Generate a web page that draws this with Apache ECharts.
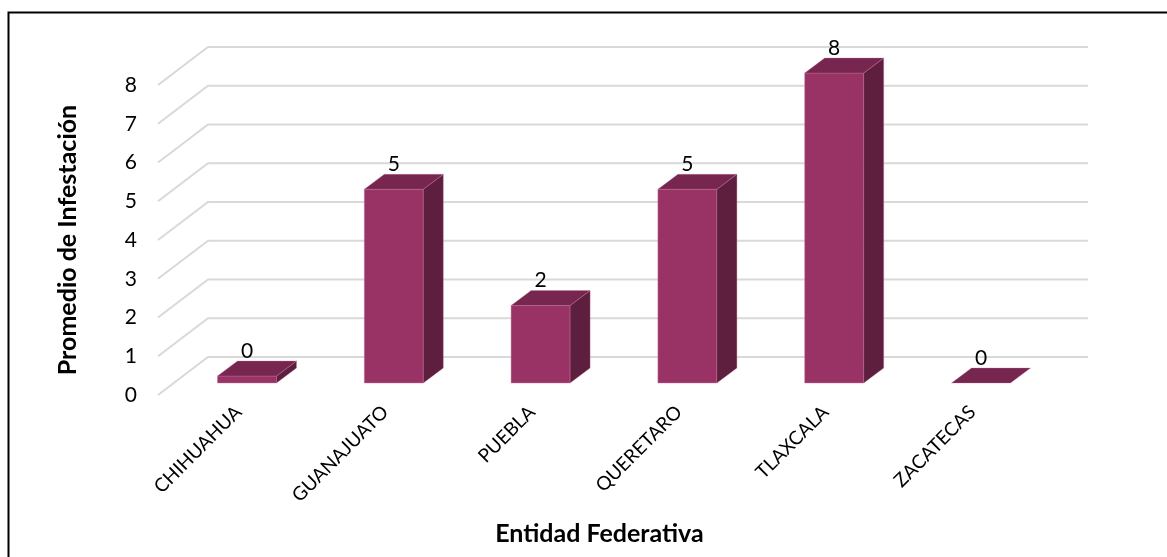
<!DOCTYPE html>
<html><head><meta charset="utf-8">
<script src="https://cdn.jsdelivr.net/npm/echarts@6/dist/echarts.min.js"></script>
<style>html,body{margin:0;padding:0;background:#fff}#c{width:1167px;height:557px}</style>
</head><body><div id="c"></div>
<script>
// ---- data ----
const categories = ['CHIHUAHUA', 'GUANAJUATO', 'PUEBLA', 'QUERETARO', 'TLAXCALA', 'ZACATECAS'];
const values = [0.18, 5, 2, 5, 8, 0];
const yTicks = [0, 1, 2, 3, 4, 5, 6, 7, 8];
const xTitle = 'Entidad Federativa';
const yTitle = 'Promedio de Infestación';

// ---- style ----
const FRONT = '#993366', TOP = '#76264F', SIDE = '#5E1F3E', EDGE = 'rgba(200,120,160,0.55)', GRIDC = '#d9d9d9';
const DX = 20, DY = -15;              // bar depth (perspective)
const FLOOR_FRONT = 12, FLOOR_BACK = -26; // gridline plane offsets
const FONT = 'Lato';

const chart = echarts.init(document.getElementById('c'), null, { renderer: 'canvas' });

function gridRender(params, api) {
  const v = api.value(1);
  const cs = params.coordSys;
  const y = api.coord([0, v])[1];
  const fx = cs.x - 15.6, bx = cs.x + 34.4, ex = cs.x + cs.width + 33.6;
  return {
    type: 'polyline',
    shape: { points: [[fx, y + FLOOR_FRONT], [bx, y + FLOOR_BACK], [ex, y + FLOOR_BACK]] },
    style: { stroke: GRIDC, lineWidth: 2, fill: null }
  };
}

function barRender(params, api) {
  const i = api.value(0), v = api.value(1);
  const top = api.coord([i, v]);
  const base = api.coord([i, 0]);
  const w = api.size([1, 0])[0] * 0.402;
  const x0 = top[0] - w / 2, x1 = top[0] + w / 2;
  const yt = top[1], yb = base[1];
  const children = [];
  if (yb - yt > 0.5) {
    children.push({ type: 'rect', shape: { x: x0, y: yt, width: w, height: yb - yt },
      style: { fill: FRONT, stroke: EDGE, lineWidth: 0.8 } });
    children.push({ type: 'polygon', shape: { points: [[x1, yb], [x1 + DX, yb + DY], [x1 + DX, yt + DY], [x1, yt]] },
      style: { fill: SIDE, stroke: EDGE, lineWidth: 0.6 } });
  }
  children.push({ type: 'polygon', shape: { points: [[x0, yt], [x0 + DX, yt + DY], [x1 + DX, yt + DY], [x1, yt]] },
    style: { fill: TOP, stroke: EDGE, lineWidth: 0.6 } });
  children.push({ type: 'text', x: top[0], y: yt - 25,
    style: { text: String(Math.round(v)), fontFamily: FONT, fontSize: 21, fill: '#000', align: 'center', verticalAlign: 'middle' } });
  return { type: 'group', children };
}

const option = {
  backgroundColor: '#fff',
  animation: false,
  grid: [
    { left: 173.6, width: 880.8, top: 73, height: 310 },
    { left: 165, width: 880.8, top: 85, height: 310 }
  ],
  xAxis: [
    { type: 'category', data: categories, gridIndex: 0, show: false },
    { type: 'category', data: categories, gridIndex: 1,
      axisLine: { show: false }, axisTick: { show: false },
      axisLabel: { rotate: 45, margin: 14, interval: 0, fontFamily: FONT, fontSize: 19, color: '#000' },
      name: xTitle, nameLocation: 'middle', nameGap: 126,
      nameTextStyle: { fontFamily: FONT, fontWeight: 'bold', fontSize: 25, color: '#000', padding: [0, 12, 0, 0] } }
  ],
  yAxis: [
    { type: 'value', min: 0, max: 8, interval: 1, gridIndex: 0, show: false },
    { type: 'value', min: 0, max: 8, interval: 1, gridIndex: 1,
      axisLine: { show: false }, axisTick: { show: false }, splitLine: { show: false },
      axisLabel: { margin: 28, fontFamily: FONT, fontSize: 21, color: '#000' },
      name: yTitle, nameLocation: 'middle', nameGap: 85,
      nameTextStyle: { fontFamily: FONT, fontWeight: 'bold', fontSize: 25, color: '#000' } }
  ],
  graphic: [
    { type: 'rect', left: 6, top: 10, shape: { width: 1200, height: 600 }, style: { fill: null, stroke: '#000', lineWidth: 2 }, silent: true }
  ],
  series: [
    { type: 'custom', xAxisIndex: 0, yAxisIndex: 0, z: 1, renderItem: gridRender,
      data: yTicks.map(t => [0, t]), clip: false },
    { type: 'custom', xAxisIndex: 0, yAxisIndex: 0, z: 2, renderItem: barRender,
      data: values.map((v, i) => [i, v]), clip: false }
  ]
};
chart.setOption(option);
</script></body></html>
